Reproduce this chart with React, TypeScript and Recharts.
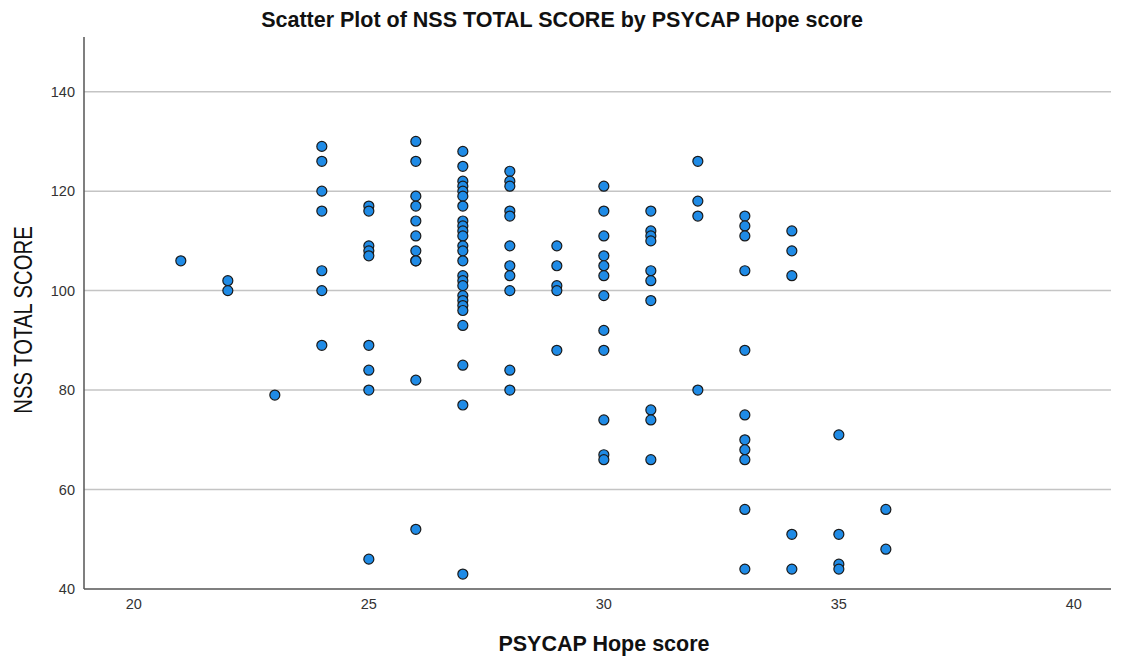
import { ReferenceLine, Scatter, ScatterChart, XAxis, YAxis } from "recharts";

const hopeLevels = [21, 22, 23, 24, 25, 26, 27, 28, 29, 30, 31, 32, 33, 34, 35, 36];

const nssByHope = [
  [106],
  [102, 100],
  [79],
  [129, 126, 120, 116, 104, 100, 89],
  [117, 116, 109, 108, 107, 89, 84, 80, 46],
  [130, 126, 119, 117, 114, 111, 108, 106, 106, 82, 52],
  [128, 125, 122, 121, 120, 119, 117, 114, 113, 112, 111, 109, 108, 106, 103, 102, 101, 99, 98, 97, 96, 93, 85, 77, 43],
  [124, 122, 121, 116, 115, 109, 105, 103, 100, 84, 80],
  [109, 105, 101, 100, 88],
  [121, 116, 111, 107, 105, 103, 99, 92, 88, 74, 67, 66],
  [116, 112, 111, 110, 104, 102, 98, 76, 74, 66],
  [126, 118, 115, 80],
  [115, 113, 111, 104, 88, 75, 70, 68, 66, 56, 44],
  [112, 108, 103, 51, 44],
  [71, 51, 45, 44],
  [56, 48],
];

const xTicks = [20, 25, 30, 35, 40];
const yTicks = [40, 60, 80, 100, 120, 140];

const points = hopeLevels.flatMap((hope, i) =>
  nssByHope[i].map((nss) => ({ hope, nss }))
);

const FONT = "'Liberation Sans', Arial, sans-serif";

export default function App() {
  return (
    <div style={{ position: "absolute", left: 0, top: 0, width: 1128, height: 657, background: "#fff", fontFamily: FONT }}>
      <ScatterChart width={1128} height={657} margin={{ top: 37, right: 17, bottom: 0, left: 0 }}>
        <XAxis
          type="number"
          dataKey="hope"
          domain={[18.94, 40.79]}
          ticks={xTicks}
          allowDataOverflow
          tickLine={false}
          axisLine={{ stroke: "#555", strokeWidth: 1.5 }}
          tick={{ fill: "#333", fontSize: 14.5, fontFamily: FONT }}
          tickMargin={4}
          height={68}
        />
        <YAxis
          type="number"
          dataKey="nss"
          domain={[40, 151]}
          ticks={yTicks}
          allowDataOverflow
          tickLine={false}
          axisLine={{ stroke: "#555", strokeWidth: 1.5 }}
          tick={{ fill: "#333", fontSize: 14.5, fontFamily: FONT }}
          tickMargin={3}
          width={84}
        />
        {yTicks.slice(1).map((t) => (
          <ReferenceLine key={t} y={t} stroke="#c4c4c4" strokeWidth={1.5} />
        ))}
        <Scatter
          data={points}
          fill="#1f8be6"
          isAnimationActive={false}
          shape={(props: any) => (
            <circle cx={props.cx} cy={props.cy} r={5} fill="#1f8be6" stroke="#1a1a1a" strokeWidth={1.2} />
          )}
        />
        <text x={562} y={27} textAnchor="middle" fontSize={21.5} fontWeight="bold" fill="#111" fontFamily={FONT}>
          Scatter Plot of NSS TOTAL SCORE by PSYCAP Hope score
        </text>
        <text x={604} y={651} textAnchor="middle" fontSize={21.5} fontWeight="bold" fill="#111" fontFamily={FONT}>
          PSYCAP Hope score
        </text>
        <text
          x={0}
          y={0}
          textAnchor="middle"
          fontSize={26}
          fill="#111"
          fontFamily={FONT}
          transform="translate(32 320) rotate(-90) scale(0.78 1)"
        >
          NSS TOTAL SCORE
        </text>
      </ScatterChart>
    </div>
  );
}
